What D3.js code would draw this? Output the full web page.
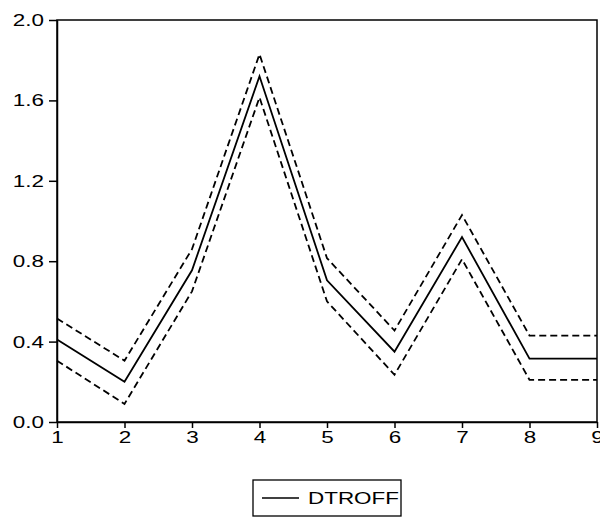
<!DOCTYPE html>
<meta charset="utf-8">
<style>
body { margin: 0; background: #fff; }
.axis text { font: 17px "Liberation Sans", Arial, sans-serif; fill: #000; }
.axis path, .axis line { stroke: #000; stroke-width: 1.5; }
</style>
<svg width="600" height="518"></svg>
<script src="https://d3js.org/d3.v7.min.js"></script>
<script>
var periods = [1, 2, 3, 4, 5, 6, 7, 8, 9];
var dtroff = [0.41, 0.20, 0.755, 1.72, 0.705, 0.35, 0.92, 0.315, 0.315];
var upper  = [0.515, 0.305, 0.86, 1.83, 0.815, 0.455, 1.03, 0.43, 0.43];
var lower  = [0.305, 0.09, 0.65, 1.615, 0.60, 0.235, 0.81, 0.21, 0.21];
var yTicks = [0.0, 0.4, 0.8, 1.2, 1.6, 2.0];

// the original is stretched sideways, so text gets widened too
var stretch = 1.32;

var svg = d3.select("svg"),
  margin = {top: 20, right: 3, bottom: 96, left: 57},
  width = svg.attr("width") - margin.left - margin.right,
  height = svg.attr("height") - margin.top - margin.bottom;

var x = d3.scaleLinear().domain([1, 9]).range([0, width]),
  y = d3.scaleLinear().domain([0, 2]).range([height, 0]);

var g = svg.append("g")
  .attr("transform", "translate(" + margin.left + "," + margin.top + ")");

// frame
g.append("rect")
  .attr("width", width).attr("height", height)
  .attr("fill", "none").attr("stroke", "#000").attr("stroke-width", 1.5);

g.append("g")
  .attr("class", "axis")
  .attr("transform", "translate(0," + height + ")")
  .call(d3.axisBottom(x).tickValues(periods).tickFormat(d3.format("d")).tickSize(6).tickSizeOuter(0))
  .call(function(a) {
    a.selectAll("text").attr("y", 0).attr("dy", 0)
      .attr("transform", "translate(0,21) scale(" + stretch + ",1)");
  });

g.append("g")
  .attr("class", "axis")
  .call(d3.axisLeft(y).tickValues(yTicks).tickFormat(d3.format(".1f")).tickSize(8).tickSizeOuter(0))
  .call(function(a) {
    a.selectAll("text").attr("x", 0)
      .attr("transform", "translate(-13,0) scale(" + stretch + ",1)");
  });

var line = d3.line()
  .x(function(d, i) { return x(periods[i]); })
  .y(function(d) { return y(d); });

[[upper, "7,4"], [lower, "7,4"], [dtroff, null]].forEach(function(s) {
  g.append("path")
    .datum(s[0])
    .attr("fill", "none")
    .attr("stroke", "#000")
    .attr("stroke-width", 1.8)
    .attr("stroke-dasharray", s[1])
    .attr("d", line);
});

// legend, centred under the plot
var lw = 148, lh = 36;
var lg = svg.append("g")
  .attr("transform", "translate(" + (margin.left + width / 2 - lw / 2) + ",480)");
lg.append("rect").attr("width", lw).attr("height", lh)
  .attr("fill", "#fff").attr("stroke", "#000").attr("stroke-width", 1.3);
lg.append("line").attr("x1", 9).attr("x2", 46).attr("y1", 18).attr("y2", 18)
  .attr("stroke", "#000").attr("stroke-width", 1.3);
lg.append("text")
  .attr("transform", "translate(55,24) scale(" + stretch + ",1)")
  .style("font", "17px 'Liberation Sans', Arial, sans-serif")
  .text("DTROFF");
</script>
